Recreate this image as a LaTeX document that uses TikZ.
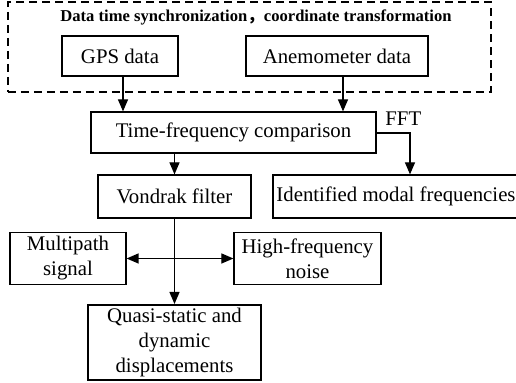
\documentclass[tikz,border=0pt]{standalone}
\usepackage{fontspec}
\setmainfont{Liberation Serif}
\newfontfamily\cjk{Noto Sans CJK SC}
\usetikzlibrary{arrows.meta}

\tikzset{
  box/.style={draw, line width=0.6pt, inner sep=0pt, align=center, font=\fontsize{10.4}{12.5}\selectfont},
}

\begin{document}
\begin{tikzpicture}[x=0.5pt, y=-0.5pt, >={Triangle[length=6pt,width=5pt]}, line width=0.6pt]
            \useasboundingbox (0,0) rectangle (516,383);
            % Nodes
            \node[draw, dash pattern=on 4pt off 2.5pt, minimum width=241.5pt, minimum height=45pt] (sync) at (249.5,47) {};
            \node[font=\bfseries\fontsize{8.3}{10}\selectfont] (sync_title) at (256,17.5) {Data time synchronization{\cjk ，}coordinate transformation};
            \node[box, minimum width=58pt, minimum height=20pt] (gps_data) at (120,56) {GPS data};
            \node[box, minimum width=91pt, minimum height=20pt] (anemometer_data) at (337,56) {Anemometer data};
            \node[box, minimum width=142.5pt, minimum height=20.5pt] (time_freq) at (233.5,132.5) {Time-frequency comparison};
            \node[box, minimum width=76.5pt, minimum height=21.5pt] (vondrak) at (174.5,196.5) {Vondrak filter};
            \node[box, minimum width=137pt, minimum height=21.5pt] (modal_freq) at (410,196.5) {\hspace*{-14pt}Identified modal frequencies};
            \node[box, minimum width=58pt, minimum height=26pt] (multipath) at (68,258.5) {Multipath\\signal};
            \node[box, minimum width=73.5pt, minimum height=26pt] (hf_noise) at (307.5,258.5) {High-frequency\\noise};
            \node[box, line width=1pt, minimum width=86.5pt, minimum height=37.5pt] (displacements) at (174.5,342.5) {Quasi-static and\\dynamic\\displacements};
            
            % Arrows
            \draw[->] ([xshift=1.5pt]gps_data.south) -- ([xshift=1.5pt]gps_data.south |- time_freq.north);
            \draw[->] ([xshift=3pt]anemometer_data.south) -- ([xshift=3pt]anemometer_data.south |- time_freq.north);
            \draw[->] (vondrak |- time_freq.south) -- (vondrak.north);
            \draw[->] (time_freq.east |- 0,133) -| node[above, pos=0.4, font=\fontsize{10.4}{12.5}\selectfont] {FFT} (modal_freq.north);
            \draw[<->] (multipath) -- (hf_noise);
            \draw[->] (vondrak) -- (displacements);
        \end{tikzpicture}
\end{document}
